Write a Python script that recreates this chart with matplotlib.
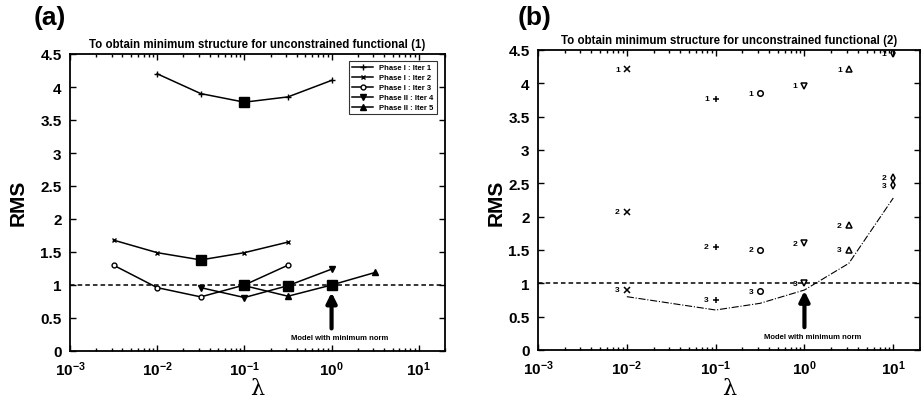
import matplotlib.pyplot as plt
from matplotlib.ticker import FixedLocator, LogLocator, NullFormatter

plt.rcParams['font.family'] = ['Liberation Sans', 'DejaVu Sans']
plt.rcParams['font.weight'] = 'bold'
plt.rcParams['mathtext.fontset'] = 'custom'
plt.rcParams['mathtext.bf'] = 'Liberation Sans:bold'
plt.rcParams['mathtext.rm'] = 'Liberation Sans:bold'

# ---- panel (a): RMS for each iteration vs lambda ----
lam1 = [0.01, 0.0316, 0.1, 0.316, 1.0]
rms1 = [4.20, 3.90, 3.77, 3.85, 4.10]
lam2 = [0.00316, 0.01, 0.0316, 0.1, 0.316]
rms2 = [1.68, 1.49, 1.38, 1.49, 1.65]
lam3 = [0.00316, 0.01, 0.0316, 0.1, 0.316]
rms3 = [1.30, 0.96, 0.82, 1.00, 1.30]
lam4 = [0.0316, 0.1, 0.316, 1.0]
rms4 = [0.96, 0.81, 0.99, 1.24]
lam5 = [0.1, 0.316, 1.0, 3.16]
rms5 = [0.99, 0.83, 1.00, 1.19]
lam_min = [0.1, 0.0316, 0.1, 0.316, 1.0]
rms_min = [3.77, 1.38, 1.00, 0.99, 1.00]

labels_a = ['Phase I : Iter 1', 'Phase I : Iter 2', 'Phase I : Iter 3',
            'Phase II : Iter 4', 'Phase II : Iter 5']

# ---- panel (b): RMS of the three sub-steps at each lambda ----
lam_b = [0.01, 0.1, 0.316, 1.0, 3.16, 10.0]
rms_b1 = [4.21, 3.77, 3.85, 3.96, 4.21, 4.45]
rms_b2 = [2.07, 1.55, 1.50, 1.60, 1.87, 2.58]
rms_b3 = [0.90, 0.75, 0.88, 1.00, 1.50, 2.47]
markers_b = ['x', '+', 'o', 'v', '^', 'd']
curve_lam = [0.01, 0.1, 0.316, 1.0, 3.16, 10.0]
curve_rms = [0.80, 0.60, 0.70, 0.90, 1.30, 2.28]

yticks = [0, 0.5, 1, 1.5, 2, 2.5, 3, 3.5, 4, 4.5]
ytick_labels = ['0', '0.5', '1', '1.5', '2', '2.5', '3', '3.5', '4', '4.5']
xticks = [1e-3, 1e-2, 1e-1, 1e0, 1e1]
xtick_labels = [r'$\mathbf{10^{-3}}$', r'$\mathbf{10^{-2}}$', r'$\mathbf{10^{-1}}$',
                r'$\mathbf{10^{0}}$', r'$\mathbf{10^{1}}$']

W, H = 921, 410
fig = plt.figure(figsize=(W / 100, H / 100), dpi=100)


def px_axes(x0, y0, x1, y1):
    return fig.add_axes([x0 / W, 1 - y1 / H, (x1 - x0) / W, (y1 - y0) / H])


def style_axes(ax, title):
    ax.set_xscale('log')
    ax.set_xlim(1e-3, 20)
    ax.set_ylim(0, 4.5)
    ax.xaxis.set_major_locator(FixedLocator(xticks))
    ax.set_xticklabels(xtick_labels, fontsize=11)
    ax.xaxis.set_minor_locator(LogLocator(base=10, subs=range(2, 10), numticks=20))
    ax.xaxis.set_minor_formatter(NullFormatter())
    ax.set_yticks(yticks)
    ax.set_yticklabels(ytick_labels, fontsize=11, fontweight='bold')
    ax.tick_params(which='both', direction='in', top=True, right=True, width=1)
    ax.tick_params(which='major', length=4, pad=6)
    ax.tick_params(which='minor', length=2)
    for s in ax.spines.values():
        s.set_linewidth(1.3)
    ax.axhline(1.0, color='k', ls='--', lw=1.1, dashes=(3, 2))
    ax.set_title(title, fontsize=8.3, fontweight='bold', pad=5)
    ax.annotate('', xy=(1.0, 0.93), xytext=(1.0, 0.30),
                arrowprops=dict(arrowstyle='-|>', lw=3, color='k', mutation_scale=15))
    ax.text(1.25, 0.2, 'Model with minimum norm', fontsize=5.5, fontweight='bold',
            ha='center', va='center')


# panel (a)
ax1 = px_axes(70, 55, 445, 352)
ax1.plot(lam1, rms1, 'k-', marker='+', ms=5, lw=1.1, label=labels_a[0])
ax1.plot(lam2, rms2, 'k-', marker='x', ms=3, lw=1.1, label=labels_a[1])
ax1.plot(lam3, rms3, 'k-', marker='o', ms=3.5, mfc='white', lw=1.1, label=labels_a[2])
ax1.plot(lam4, rms4, 'k-', marker='v', ms=4, lw=1.1, label=labels_a[3])
ax1.plot(lam5, rms5, 'k-', marker='^', ms=4, lw=1.1, label=labels_a[4])
ax1.plot(lam_min, rms_min, 'ks', ms=7, ls='none')
style_axes(ax1, 'To obtain minimum structure for unconstrained functional (1)')
leg = ax1.legend(loc='upper right', fontsize=5.5, frameon=True, fancybox=False,
                 edgecolor='k', handlelength=2.8, borderpad=0.4, labelspacing=0.35,
                 bbox_to_anchor=(0.988, 0.99))
leg.get_frame().set_linewidth(0.8)

# panel (b)
ax2 = px_axes(538, 51, 920, 351)
for lam, m, r1, r2, r3 in zip(lam_b, markers_b, rms_b1, rms_b2, rms_b3):
    for num, r in (('1', r1), ('2', r2), ('3', r3)):
        face = 'k' if m in ('x', '+') else 'none'
        ax2.plot(lam, r, ls='none', marker=m, ms=4, mec='k', mfc=face, mew=1.1)
        ax2.annotate(num, (lam, r), xytext=(-5, 0), textcoords='offset points',
                     fontsize=6, fontweight='bold', ha='right', va='center')
ax2.plot(curve_lam, curve_rms, 'k', ls='-.', lw=0.8)
style_axes(ax2, 'To obtain minimum structure for unconstrained functional (2)')

# panel letters and axis labels
fig.text(50 / W, 1 - 18 / H, '(a)', fontsize=19, fontweight='bold', ha='center', va='center')
fig.text(535 / W, 1 - 18 / H, '(b)', fontsize=19, fontweight='bold', ha='center', va='center')
for xl in (18, 496):
    fig.text(xl / W, 1 - 203 / H, 'RMS', fontsize=15, fontweight='bold', rotation=90,
             ha='center', va='center')
for xl in (257, 729):
    fig.text(xl / W, 1 - 389 / H, 'λ', fontsize=16, family='DejaVu Serif',
             fontweight='normal', ha='center', va='center')

fig.savefig('out.png', dpi=100)
